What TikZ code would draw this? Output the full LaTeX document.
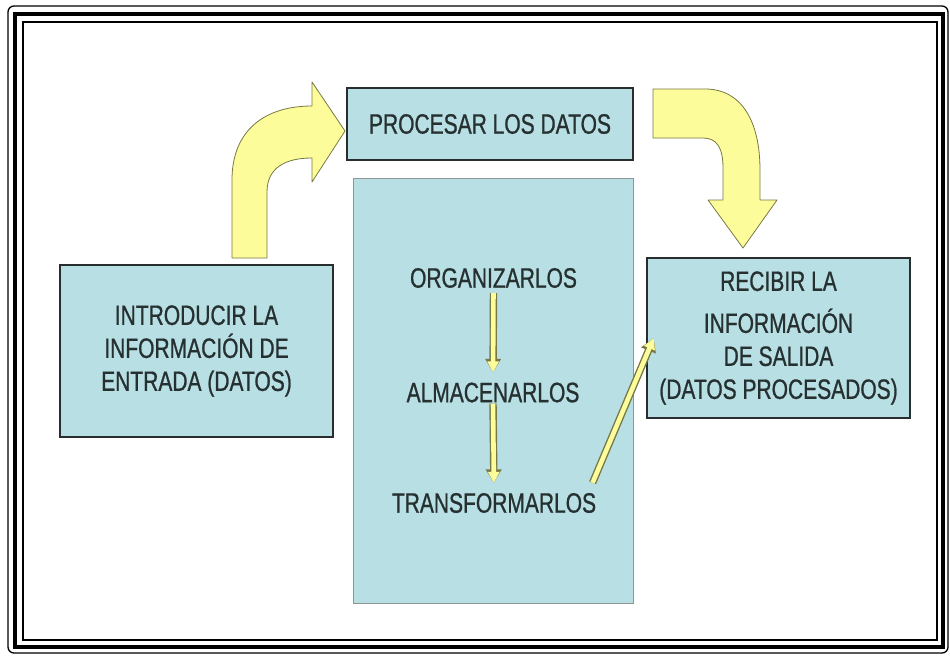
\documentclass[tikz,border=0pt]{standalone}
\usepackage{fontspec}
\usetikzlibrary{arrows.meta}

\newfontfamily\slidefont[FakeStretch=0.75, FakeBold=0.8]{Liberation Sans}

\definecolor{boxfill}{RGB}{184,223,228}
\definecolor{boxline}{RGB}{40,46,46}
\definecolor{coreline}{RGB}{140,150,150}
\definecolor{arrowfill}{RGB}{252,252,155}
\definecolor{arrowline}{RGB}{120,120,70}
\definecolor{ink}{RGB}{38,48,48}

\begin{document}
\begin{tikzpicture}[x=1pt, y=-1pt,
    box/.style={draw=boxline, line width=2.6pt, fill=boxfill, inner sep=0pt,
        align=center, text=ink, font=\slidefont\fontsize{28}{33}\selectfont},
    txt/.style={inner sep=0pt, text=ink, font=\slidefont\fontsize{28}{33}\selectfont},
    flow/.style={draw=arrowfill, line width=4.6pt, -{Triangle[length=11pt,width=11pt]},
        preaction={draw=arrowline, line width=7.4pt, -{Triangle[length=13.5pt,width=15pt]}}},
    bigflow/.style={fill=arrowfill, draw=arrowline, line width=0.8pt, line join=round}]
    \useasboundingbox (0,0) rectangle (950,656);

    % the frame
    \draw[line width=1.3pt, rounded corners=6pt] (8,6) rectangle (948,653);
    \draw[line width=4.5pt] (15,14) rectangle (943,647);
    \draw[line width=1.3pt] (23,22) rectangle (937,640);

    % the boxes
    \node[box, minimum width=286pt, minimum height=72pt] (proc) at (490,124)
        {PROCESAR LOS DATOS};
    \node[box, draw=coreline, line width=0.9pt, minimum width=280pt,
        minimum height=425pt] (core) at (493,390.5) {};
    \node[box, minimum width=273pt, minimum height=172pt] (intro) at (196.5,351)
        {\fontsize{28}{40}\selectfont INTRODUCIR LA\\ INFORMACIÓN DE\\ ENTRADA (DATOS)};
    \node[box, minimum width=263pt, minimum height=160pt] (recv) at (778.5,338)
        {RECIBIR LA\\[9pt] INFORMACIÓN\\ DE SALIDA\\ (DATOS PROCESADOS)};

    % the steps inside the process
    \node[txt] (org) at (493.5,278) {ORGANIZARLOS};
    \node[txt] (alm) at (493,392.5) {ALMACENARLOS};
    \node[txt] (tra) at (494,503) {TRANSFORMARLOS};

    % the bent arrows (drawn as shapes)
    \draw[bigflow] (232,258) -- (232,180) .. controls (232,130) and (265,106) .. (312,106)
        -- (312,82) -- (345,131) -- (312,182) -- (312,158)
        .. controls (285,158) and (267,168) .. (267,192) -- (267,258) -- cycle;
    \draw[bigflow] (653,89) -- (705,89) .. controls (742,89) and (760,122) .. (760,170)
        -- (760,200) -- (777,200) -- (743,248) -- (708,200) -- (723,200) -- (723,168)
        .. controls (723,148) and (717,138) .. (703,138) -- (653,138) -- cycle;

    % the arrows between the steps
    \draw[flow, shorten <=5pt, shorten >=10pt] (org.south) -- (alm.north);
    \draw[flow, shorten <=1pt, shorten >=10pt] (alm.south) -- (tra.north);
    \draw[flow, shorten <=11pt] ([xshift=-8pt]tra.north east) -- ([xshift=8pt]recv.west);

\end{tikzpicture}
\end{document}
